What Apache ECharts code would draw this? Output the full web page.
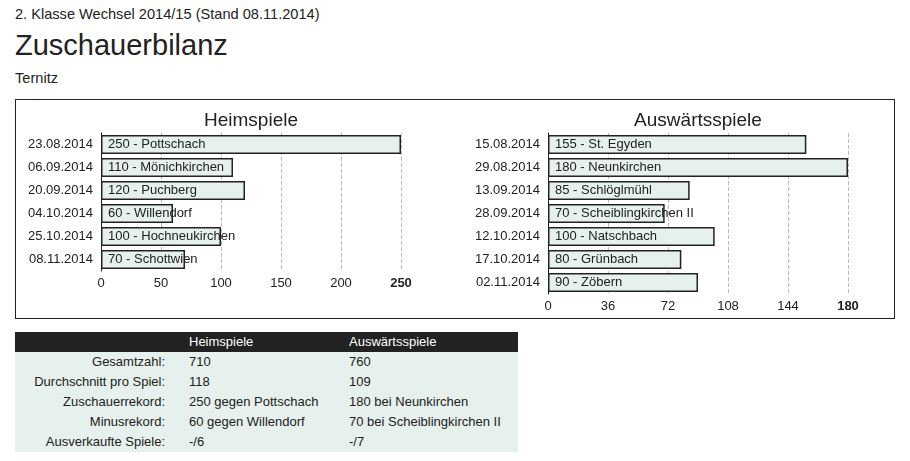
<!DOCTYPE html>
<html>
<head>
<meta charset="utf-8">
<script src="https://cdn.jsdelivr.net/npm/echarts@6/dist/echarts.min.js"></script>
<style>
  body { margin: 0; background: #fff; font-family: Arial, "Liberation Sans", sans-serif; color: #222; }
  .line { position: absolute; left: 15px; line-height: 1; white-space: nowrap; }
  #kopf { top: 6.6px; font-size: 14.6px; }
  #titel { top: 30.5px; font-size: 29px; }
  #verein { top: 70.6px; font-size: 14.6px; }
  #box { position: absolute; left: 15px; top: 99px; width: 880px; height: 220px; box-sizing: border-box; border: 1px solid #222; }
  #chart { width: 878px; height: 218px; }
  #bilanz { position: absolute; left: 15px; top: 332px; width: 503px; border-collapse: collapse; table-layout: fixed; font-size: 13px; }
  #bilanz td, #bilanz th { padding: 0; height: 20px; line-height: 20px; white-space: nowrap; font-weight: normal; text-align: left; }
  #bilanz thead th { background: #222; color: #fff; }
  #bilanz tbody td { background: #e6f0ec; }
  #bilanz .lbl { text-align: right; padding-right: 24px; }
</style>
</head>
<body>
<div class="line" id="kopf">2. Klasse Wechsel 2014/15 (Stand 08.11.2014)</div>
<div class="line" id="titel">Zuschauerbilanz</div>
<div class="line" id="verein">Ternitz</div>
<div id="box"><div id="chart"></div></div>
<table id="bilanz">
  <colgroup><col style="width:174px"><col style="width:160px"><col style="width:169px"></colgroup>
  <thead><tr id="kopfzeile"></tr></thead>
  <tbody id="zeilen"></tbody>
</table>
<script>
// Heimspiele
const homeDates = ['23.08.2014', '06.09.2014', '20.09.2014', '04.10.2014', '25.10.2014', '08.11.2014'];
const homeOpponents = ['Pottschach', 'Mönichkirchen', 'Puchberg', 'Willendorf', 'Hochneukirchen', 'Schottwien'];
const homeValues = [250, 110, 120, 60, 100, 70];

// Auswärtsspiele
const awayDates = ['15.08.2014', '29.08.2014', '13.09.2014', '28.09.2014', '12.10.2014', '17.10.2014', '02.11.2014'];
const awayOpponents = ['St. Egyden', 'Neunkirchen', 'Schlöglmühl', 'Scheiblingkirchen II', 'Natschbach', 'Grünbach', 'Zöbern'];
const awayValues = [155, 180, 85, 70, 100, 80, 90];

// Tabelle
const tableHead = ['', 'Heimspiele', 'Auswärtsspiele'];
const tableLabels = ['Gesamtzahl:', 'Durchschnitt pro Spiel:', 'Zuschauerrekord:', 'Minusrekord:', 'Ausverkaufte Spiele:'];
const tableHome = ['710', '118', '250 gegen Pottschach', '60 gegen Willendorf', '-/6'];
const tableAway = ['760', '109', '180 bei Neunkirchen', '70 bei Scheiblingkirchen II', '-/7'];

const FONT = 'Arial, "Liberation Sans", sans-serif';
const TXT = '#222';

document.getElementById('kopfzeile').innerHTML = tableHead.map(h => '<th>' + h + '</th>').join('');
document.getElementById('zeilen').innerHTML = tableLabels.map((l, i) =>
  '<tr><td class="lbl">' + l + '</td><td>' + tableHome[i] + '</td><td>' + tableAway[i] + '</td></tr>').join('');

function valueAxis(idx, max, interval) {
  return {
    type: 'value', gridIndex: idx, min: 0, max: max, interval: interval,
    axisLine: { show: false }, axisTick: { show: false },
    splitLine: { lineStyle: { type: 'dashed', color: '#bbb' } },
    axisLabel: {
      margin: 6, color: TXT, fontSize: 13, fontFamily: FONT,
      formatter: v => (v === max ? '{b|' + v + '}' : String(v)),
      rich: { b: { fontWeight: 'bold', color: TXT, fontSize: 13, fontFamily: FONT } }
    }
  };
}

function catAxis(idx, dates) {
  return {
    type: 'category', gridIndex: idx, data: dates, inverse: true,
    axisLine: { lineStyle: { color: TXT, width: 1 } },
    axisTick: { show: false },
    axisLabel: { margin: 8, color: TXT, fontSize: 13, fontFamily: FONT }
  };
}

function barSeries(idx, values, opponents) {
  return {
    type: 'bar', xAxisIndex: idx, yAxisIndex: idx, data: values,
    barCategoryGap: '17%',
    itemStyle: { color: '#e6f0ec', borderColor: TXT, borderWidth: 1.5 },
    label: {
      show: true, position: 'insideLeft', distance: 7,
      color: TXT, fontSize: 13, fontFamily: FONT,
      formatter: p => p.value + ' - ' + opponents[p.dataIndex]
    },
    emphasis: { disabled: true }
  };
}

const chart = echarts.init(document.getElementById('chart'));
chart.setOption({
  animation: false,
  title: [
    { text: 'Heimspiele', left: 235, top: 11, textAlign: 'center', padding: 0,
      textStyle: { fontSize: 19, fontWeight: 'normal', color: TXT, fontFamily: FONT } },
    { text: 'Auswärtsspiele', left: 682, top: 11, textAlign: 'center', padding: 0,
      textStyle: { fontSize: 19, fontWeight: 'normal', color: TXT, fontFamily: FONT } }
  ],
  grid: [
    { left: 85, top: 33, width: 300, height: 138 },
    { left: 532, top: 33, width: 300, height: 161 }
  ],
  xAxis: [valueAxis(0, 250, 50), valueAxis(1, 180, 36)],
  yAxis: [catAxis(0, homeDates), catAxis(1, awayDates)],
  series: [barSeries(0, homeValues, homeOpponents), barSeries(1, awayValues, awayOpponents)]
});
</script>
</body>
</html>
